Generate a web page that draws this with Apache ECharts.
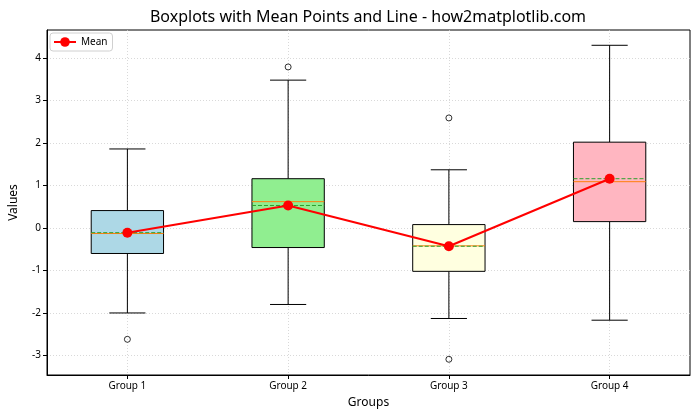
<!DOCTYPE html>
<html>
<head>
<meta charset="utf-8">
<script src="https://cdn.jsdelivr.net/npm/echarts@6/dist/echarts.min.js"></script>
<style>html,body{margin:0;padding:0;background:#fff;}#main{width:700px;height:420px;}</style>
</head>
<body>
<div id="main"></div>
<script>
var categories = ['Group 1', 'Group 2', 'Group 3', 'Group 4'];
var whiskerLow = [-2.00, -1.80, -2.13, -2.17];
var q1 = [-0.60, -0.46, -1.02, 0.15];
var median = [-0.13, 0.62, -0.42, 1.09];
var q3 = [0.41, 1.16, 0.08, 2.02];
var whiskerHigh = [1.86, 3.48, 1.37, 4.30];
var means = [-0.11, 0.53, -0.43, 1.16];
var outliers = [[0, -2.62], [1, 3.79], [2, 2.59], [2, -3.09]];
var boxColors = ['#add8e6', '#90ee90', '#ffffe0', '#ffb6c1'];
var yTicks = [-3, -2, -1, 0, 1, 2, 3, 4];
var xTicks = [0, 1, 2, 3];

var FONT = 'Noto Sans';
var chart = echarts.init(document.getElementById('main'), null, {renderer: 'canvas'});

var boxData = categories.map(function (c, i) {
  return [i, whiskerLow[i], q1[i], median[i], q3[i], whiskerHigh[i], means[i]];
});
var meanData = means.map(function (m, i) { return [i, m]; });

function renderBox(params, api) {
  var i = api.value(0);
  var cx = api.coord([i, 0])[0];
  var band = api.size([1, 0])[0];
  var hw = band * 0.45 / 2;
  var cw = hw / 2;
  var yLo = api.coord([i, api.value(1)])[1];
  var yQ1 = api.coord([i, api.value(2)])[1];
  var yMed = api.coord([i, api.value(3)])[1];
  var yQ3 = api.coord([i, api.value(4)])[1];
  var yHi = api.coord([i, api.value(5)])[1];
  var yMean = api.coord([i, api.value(6)])[1];
  var black = {stroke: '#000', lineWidth: 1};
  return {
    type: 'group',
    children: [
      {type: 'line', shape: {x1: cx, y1: yQ3, x2: cx, y2: yHi}, style: black},
      {type: 'line', shape: {x1: cx, y1: yQ1, x2: cx, y2: yLo}, style: black},
      {type: 'line', shape: {x1: cx - cw, y1: yHi, x2: cx + cw, y2: yHi}, style: black},
      {type: 'line', shape: {x1: cx - cw, y1: yLo, x2: cx + cw, y2: yLo}, style: black},
      {type: 'rect', shape: {x: cx - hw, y: yQ3, width: 2 * hw, height: yQ1 - yQ3},
        style: {fill: boxColors[i], stroke: '#000', lineWidth: 1}},
      {type: 'line', shape: {x1: cx - hw, y1: yMed, x2: cx + hw, y2: yMed},
        style: {stroke: '#ff7f0e', lineWidth: 1}},
      {type: 'line', shape: {x1: cx - hw, y1: yMean, x2: cx + hw, y2: yMean},
        style: {stroke: '#2ca02c', lineWidth: 1, lineDash: [4, 2]}}
    ]
  };
}

var option = {
  animation: false,
  backgroundColor: '#fff',
  textStyle: {fontFamily: FONT},
  title: {
    text: 'Boxplots with Mean Points and Line - how2matplotlib.com',
    left: 363, top: 4, textAlign: 'center',
    textStyle: {fontFamily: FONT, fontSize: 16, fontWeight: 'normal', color: '#000'}
  },
  legend: {
    data: ['Mean'],
    left: 50, top: 33,
    itemWidth: 22, itemHeight: 12, itemGap: 5,
    padding: [4, 5, 4, 3],
    backgroundColor: '#fff', borderColor: '#d0d0d0', borderWidth: 1, borderRadius: 3,
    textStyle: {fontFamily: FONT, fontSize: 10, color: '#000'}
  },
  grid: {left: 44, right: 10, top: 30, bottom: 45, show: true, borderColor: '#000', borderWidth: 1, backgroundColor: 'transparent'},
  xAxis: {
    type: 'value', min: -0.5, max: 3.5,
    name: 'Groups', nameLocation: 'middle', nameGap: 22,
    nameTextStyle: {fontFamily: FONT, fontSize: 12, color: '#000'},
    axisLine: {onZero: false, lineStyle: {color: '#000'}},
    axisTick: {show: true, length: 4, customValues: xTicks, lineStyle: {color: '#000'}},
    axisLabel: {fontFamily: FONT, fontSize: 10, color: '#000', margin: 6, customValues: xTicks,
      formatter: function (v) { return categories[Math.round(v)]; }},
    splitLine: {show: true, lineStyle: {color: '#cfcfcf', type: [1, 2], width: 0.8}}
  },
  yAxis: {
    type: 'value', min: -3.46, max: 4.66,
    name: 'Values', nameLocation: 'middle', nameGap: 27,
    nameTextStyle: {fontFamily: FONT, fontSize: 12, color: '#000'},
    axisLine: {show: true, onZero: false, lineStyle: {color: '#000'}},
    axisTick: {show: true, length: 4, customValues: yTicks, lineStyle: {color: '#000'}},
    axisLabel: {fontFamily: FONT, fontSize: 10, color: '#000', margin: 6, customValues: yTicks},
    splitLine: {show: true, lineStyle: {color: '#cfcfcf', type: [1, 2], width: 0.8}}
  },
  series: [
    {
      type: 'custom', name: 'boxes', renderItem: renderBox, data: boxData,
      encode: {x: 0, y: [1, 2, 3, 4, 5, 6]}, z: 2, silent: true
    },
    {
      type: 'scatter', name: 'outliers', data: outliers,
      symbol: 'circle', symbolSize: 6,
      itemStyle: {color: 'transparent', borderColor: '#000', borderWidth: 1}, z: 3
    },
    {
      type: 'line', name: 'Mean', data: meanData,
      symbol: 'circle', symbolSize: 10, showAllSymbol: true,
      lineStyle: {color: '#ff0000', width: 2},
      itemStyle: {color: '#ff0000'}, z: 5
    }
  ]
};
chart.setOption(option);
</script>
</body>
</html>
